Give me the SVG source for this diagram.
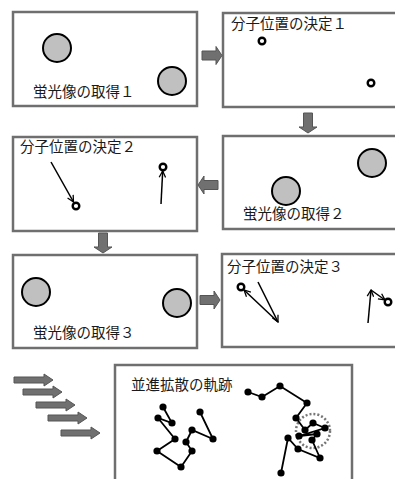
<svg xmlns="http://www.w3.org/2000/svg" width="395" height="479" viewBox="0 0 395 479">
<style>
.panel{fill:#fff;stroke:#6f6f6f;stroke-width:2.5}
.big{fill:#c0c0c0;stroke:#000;stroke-width:2}
.mol{fill:#fff;stroke:#000;stroke-width:2.4}
.lbl{font-family:"Noto Sans CJK JP","Noto Sans",sans-serif;font-size:14.5px;fill:#1a1a1a}
.blk{fill:#707070;stroke:#555;stroke-width:1}
.trk{fill:none;stroke:#000;stroke-width:1.8}
.vec{fill:none;stroke:#000;stroke-width:1.5;marker-end:url(#v)}
.dot{fill:#000}
</style>
<defs>
<marker id="v" viewBox="0 0 10 10" refX="9" refY="5" markerWidth="8" markerHeight="8" orient="auto" markerUnits="userSpaceOnUse">
<path d="M1,1 L9,5 L1,9" fill="none" stroke="#000" stroke-width="1.6"/>
</marker>
<path id="ra" d="M0,-4.5 H14 V-9 L20,0 L14,9 V4.5 H0 Z"/>
<path id="sa" d="M0,-3 H30 V-6 L39,0 L30,6 V3 H0 Z"/>
</defs>
<g id="panel1">
<rect class="panel" x="13" y="12" width="184" height="94"/>
<circle class="big" cx="57" cy="48" r="14"/>
<circle class="big" cx="172" cy="81" r="14"/>
<text class="lbl" x="33" y="97">蛍光像の取得１</text>
</g>
<g id="panel2">
<rect class="panel" x="223" y="13" width="180" height="94"/>
<text class="lbl" x="231" y="29">分子位置の決定１</text>
<circle class="mol" cx="262" cy="41" r="3.3"/>
<circle class="mol" cx="371" cy="83" r="3.3"/>
</g>
<g id="panel4">
<rect class="panel" x="223" y="136" width="180" height="93"/>
<circle class="big" cx="286" cy="191" r="14"/>
<circle class="big" cx="372" cy="163" r="14"/>
<text class="lbl" x="243" y="219">蛍光像の取得２</text>
</g>
<g id="panel3">
<rect class="panel" x="13" y="137" width="184" height="94"/>
<text class="lbl" x="20" y="152">分子位置の決定２</text>
<circle class="mol" cx="76" cy="206" r="3.3"/>
<circle class="mol" cx="163" cy="167" r="3.3"/>
</g>
<g id="panel5">
<rect class="panel" x="13" y="255" width="184" height="93"/>
<circle class="big" cx="36" cy="292" r="14"/>
<circle class="big" cx="177" cy="303" r="14"/>
<text class="lbl" x="33" y="338">蛍光像の取得３</text>
</g>
<g id="panel6">
<rect class="panel" x="222" y="254" width="180" height="93"/>
<text class="lbl" x="227" y="272">分子位置の決定３</text>
<circle class="mol" cx="241" cy="287" r="3.3"/>
<circle class="mol" cx="388" cy="302" r="3.3"/>
</g>
<g id="panel7">
<rect class="panel" x="115" y="365" width="237" height="120"/>
<text class="lbl" x="131" y="390">並進拡散の軌跡</text>
<circle cx="313" cy="431" r="17" fill="none" stroke="#777" stroke-width="2.5" stroke-dasharray="2 2"/>
<polyline class="trk" points="163,407 172,423 158,418 175,439 157,451 181,467 192,451 186,442 192,430 213,439 200,412"/>
<g class="dot">
<circle cx="163" cy="407" r="3.6"/><circle cx="172" cy="423" r="3.6"/><circle cx="158" cy="418" r="3.6"/>
<circle cx="175" cy="439" r="3.6"/><circle cx="157" cy="451" r="3.6"/><circle cx="181" cy="467" r="3.6"/>
<circle cx="192" cy="451" r="3.6"/><circle cx="186" cy="442" r="3.6"/><circle cx="192" cy="430" r="3.6"/>
<circle cx="213" cy="439" r="3.6"/><circle cx="200" cy="412" r="3.6"/>
</g>
<polyline class="trk" points="248,392 262,397 280,386 307,403 296,418 305,430 313,423 325,428 299,436 317,434 312,440 320,458 298,449 288,438 281,473"/>
<g class="dot">
<circle cx="248" cy="392" r="3.6"/><circle cx="262" cy="397" r="3.6"/><circle cx="280" cy="386" r="3.6"/>
<circle cx="307" cy="403" r="3.6"/><circle cx="296" cy="418" r="3.6"/><circle cx="305" cy="430" r="3.6"/>
<circle cx="313" cy="423" r="3.6"/><circle cx="325" cy="428" r="3.6"/><circle cx="299" cy="436" r="3.6"/>
<circle cx="317" cy="434" r="3.6"/><circle cx="312" cy="440" r="3.6"/><circle cx="320" cy="458" r="3.6"/>
<circle cx="298" cy="449" r="3.6"/><circle cx="288" cy="438" r="3.6"/><circle cx="281" cy="473" r="3.6"/>
</g>
</g>
<g id="connectors">
<use href="#ra" class="blk" transform="translate(202,55.5)"/>
<use href="#ra" class="blk" transform="translate(308,113) rotate(90)"/>
<use href="#ra" class="blk" transform="translate(218,185) rotate(180)"/>
<use href="#ra" class="blk" transform="translate(103,233) rotate(90)"/>
<use href="#ra" class="blk" transform="translate(200,300)"/>
<use href="#sa" class="blk" transform="translate(14,380)"/>
<use href="#sa" class="blk" transform="translate(23,392)"/>
<use href="#sa" class="blk" transform="translate(36,405)"/>
<use href="#sa" class="blk" transform="translate(48,418)"/>
<use href="#sa" class="blk" transform="translate(61,433)"/>
<line class="vec" x1="51" y1="162" x2="73.5" y2="202"/>
<line class="vec" x1="161" y1="204" x2="162.7" y2="171"/>
<line class="vec" x1="258" y1="282" x2="278" y2="322"/>
<line class="vec" x1="278" y1="322" x2="244" y2="290"/>
<line class="vec" x1="368" y1="323" x2="371" y2="290"/>
<line class="vec" x1="371" y1="290" x2="385" y2="300"/>
</g>
</svg>
